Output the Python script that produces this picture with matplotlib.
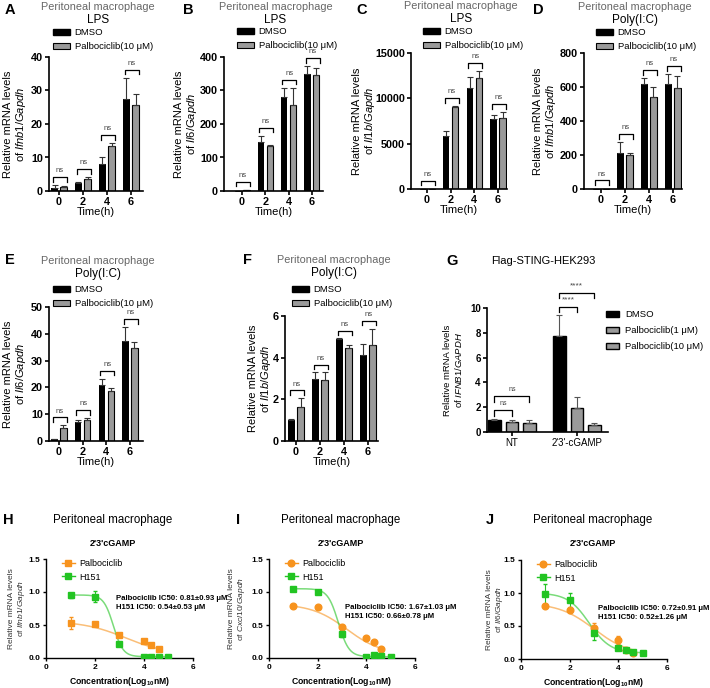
import numpy as np
import matplotlib
matplotlib.use("Agg")
import matplotlib.pyplot as plt
from matplotlib.patches import Patch
from matplotlib.lines import Line2D

plt.rcParams["font.family"] = ["Liberation Sans", "DejaVu Sans"]
plt.rcParams["mathtext.fontset"] = "custom"
plt.rcParams["mathtext.rm"] = "Liberation Sans"
plt.rcParams["mathtext.it"] = "Liberation Sans:italic"
plt.rcParams["mathtext.bf"] = "Liberation Sans:bold"

# ---- data: bar panels (time course) ----
time_labels = ["0", "2", "4", "6"]

a_dmso = [1.0, 2.3, 8.2, 27.5]
a_dmso_err = [0.8, 0.3, 2.0, 6.3]
a_palbo = [1.2, 3.7, 13.5, 25.8]
a_palbo_err = [0.4, 0.4, 0.8, 3.3]

b_dmso = [1, 145, 280, 348]
b_dmso_err = [0, 20, 28, 25]
b_palbo = [3, 135, 258, 345]
b_palbo_err = [1, 3, 50, 23]

c_dmso = [20, 5800, 11100, 7700]
c_dmso_err = [0, 600, 1300, 500]
c_palbo = [20, 9000, 12200, 7800]
c_palbo_err = [0, 100, 800, 700]

d_dmso = [2, 210, 620, 615]
d_dmso_err = [0, 65, 30, 60]
d_palbo = [2, 198, 540, 592]
d_palbo_err = [0, 12, 60, 70]

e_dmso = [0.7, 7.2, 21.0, 37.3]
e_dmso_err = [0.2, 0.5, 2.2, 5.2]
e_palbo = [5.0, 7.8, 18.8, 34.6]
e_palbo_err = [0.8, 0.7, 1.0, 2.5]

f_dmso = [1.0, 3.0, 4.9, 4.15]
f_dmso_err = [0.08, 0.3, 0.03, 0.5]
f_palbo = [1.65, 2.95, 4.45, 4.6]
f_palbo_err = [0.42, 0.35, 0.15, 0.8]

# ---- data: panel G ----
g_groups = ["NT", "2'3'-cGAMP"]
g_labels = ["DMSO", "Palbociclib(1 μM)", "Palbociclib(10 μM)"]
g_vals = [[1.0, 7.75], [0.8, 1.95], [0.75, 0.55]]
g_errs = [[0.05, 1.65], [0.2, 0.85], [0.25, 0.15]]
g_sig = ["ns", "****"]

# ---- data: dose response panels ----
palbo_x = [1, 2, 3, 4, 4.3, 4.6]
h151_x = [1, 2, 3, 4, 4.3, 4.6, 5]

h_palbo = [0.53, 0.52, 0.35, 0.26, 0.19, 0.14]
h_palbo_err = [0.09, 0.03, 0.03, 0.02, 0.02, 0.02]
h_h151 = [0.95, 0.93, 0.21, 0.02, 0.02, 0.02, 0.02]
h_h151_err = [0.04, 0.08, 0.03, 0.01, 0.01, 0.01, 0.01]

i_palbo = [0.79, 0.77, 0.47, 0.30, 0.24, 0.13]
i_palbo_err = [0.02, 0.02, 0.03, 0.02, 0.02, 0.02]
i_h151 = [1.05, 1.0, 0.37, 0.02, 0.05, 0.03, 0.02]
i_h151_err = [0.02, 0.02, 0.05, 0.01, 0.01, 0.01, 0.01]

j_palbo = [0.81, 0.74, 0.47, 0.29, 0.13, 0.09]
j_palbo_err = [0.02, 0.05, 0.08, 0.06, 0.03, 0.03]
j_h151 = [0.99, 0.89, 0.39, 0.16, 0.13, 0.11, 0.09]
j_h151_err = [0.15, 0.11, 0.10, 0.02, 0.02, 0.03, 0.01]

# fitted 4PL parameters (top, bottom, logIC50, hill)
h_palbo_fit = (0.56, 0.05, 3.25, 0.5)
h_h151_fit = (0.955, 0.02, 2.75, 2.2)
i_palbo_fit = (0.82, 0.05, 3.2, 0.6)
i_h151_fit = (1.05, 0.02, 2.85, 2.0)
j_palbo_fit = (0.85, 0.06, 3.0, 0.6)
j_h151_fit = (1.0, 0.09, 2.8, 1.0)

h_ic50 = "Palbociclib IC50: 0.81±0.93 μM\nH151 IC50: 0.54±0.53 μM"
i_ic50 = "Palbociclib IC50: 1.67±1.03 μM\nH151 IC50: 0.66±0.78 μM"
j_ic50 = "Palbociclib IC50: 0.72±0.91 μM\nH151 IC50: 0.52±1.26 μM"

W, H = 710, 688
fig = plt.figure(figsize=(W / 100, H / 100), dpi=100)

ORANGE = "#F7931E"
GREEN = "#22C422"
PGRAY = "#9a9a9a"


def rect(l, t, r, b):
    return [l / W, 1 - b / H, (r - l) / W, (b - t) / H]


def ftext(x, y, s, **kw):
    fig.text(x / W, 1 - y / H, s, ha=kw.pop("ha", "center"), va=kw.pop("va", "center"), **kw)


def style_axes(ax, lw=1.2):
    for s in ["top", "right"]:
        ax.spines[s].set_visible(False)
    for s in ["left", "bottom"]:
        ax.spines[s].set_linewidth(lw)
    ax.tick_params(width=lw, length=3, pad=1.5)


def place_ylabel(ax, box, right_px):
    # right edge of the (rotated) label block, in figure pixels
    ax.yaxis.set_label_coords((right_px - box[0]) / (box[2] - box[0]), 0.5)


def bracket(ax, x1, x2, y, leg, text, fs=5.5):
    ax.plot([x1, x1, x2, x2], [y - leg, y, y, y - leg], color="black", lw=0.9, clip_on=False)
    ax.text((x1 + x2) / 2, y + leg * 0.6, text, ha="center", va="bottom", fontsize=fs,
            color="#444444", clip_on=False)


def bar_panel(letter, box, xlim, ymax, ystep, gene, stim, dmso, dmso_err, palbo, palbo_err,
              letter_xy, title_y, leg_xy, ylab_right):
    ax = fig.add_axes(rect(*box))
    x = np.arange(len(time_labels))
    zeros = [0] * len(x)
    ekw = dict(elinewidth=0.8, capsize=2, capthick=0.8)
    ax.bar(x - 0.19, dmso, 0.27, color="black", yerr=[zeros, dmso_err],
           error_kw=dict(ecolor="#333333", **ekw))
    ax.bar(x + 0.19, palbo, 0.27, color=PGRAY, edgecolor="black", linewidth=0.8,
           yerr=[zeros, palbo_err], error_kw=dict(ecolor="#333333", **ekw))
    ax.set_xlim(*xlim)
    ax.set_ylim(0, ymax)
    ax.set_yticks(np.arange(0, ymax + ystep / 2, ystep))
    ax.set_xticks(x, time_labels)
    style_axes(ax)
    for lab in ax.get_xticklabels() + ax.get_yticklabels():
        lab.set_fontweight("bold")
        lab.set_fontsize(7.8)
    for i in x:
        top = max(dmso[i] + dmso_err[i], palbo[i] + palbo_err[i])
        bracket(ax, i - 0.26, i + 0.33, top + 0.06 * ymax, 0.035 * ymax, "ns")
    ax.set_xlabel("Time(h)", fontsize=8, labelpad=0)
    ax.set_ylabel("Relative mRNA levels\nof $\\mathit{" + gene + "}$", fontsize=8,
                  linespacing=1.1)
    place_ylabel(ax, box, ylab_right)
    cx = (box[0] + box[2]) / 2
    ftext(letter_xy[0], letter_xy[1], letter, fontsize=10.5, fontweight="bold")
    ftext(cx + 2, title_y, "Peritoneal macrophage", fontsize=7.8, color="#666666")
    ftext(cx + 2, title_y + 13, stim, fontsize=8.5)
    handles = [Patch(facecolor="black", edgecolor="black"),
               Patch(facecolor=PGRAY, edgecolor="black", linewidth=0.8)]
    ax.legend(handles, ["DMSO", "Palbociclib(10 μM)"], loc="upper left",
              bbox_to_anchor=(leg_xy[0] / W, 1 - leg_xy[1] / H), bbox_transform=fig.transFigure,
              frameon=False, fontsize=6.8, handlelength=1.8, handleheight=0.55,
              handletextpad=0.5, borderpad=0, borderaxespad=0, labelspacing=0.55)
    return ax


bar_panel("A", (49, 57, 143, 191), (-0.42, 3.5), 40, 10, "Ifnb1/Gapdh", "LPS",
          a_dmso, a_dmso_err, a_palbo, a_palbo_err, (10, 10), 7, (53, 28), 28)
bar_panel("B", (224, 57, 323, 191), (-0.77, 3.48), 400, 100, "Il6/Gapdh", "LPS",
          b_dmso, b_dmso_err, b_palbo, b_palbo_err, (188, 10), 7, (237, 27), 199)
bar_panel("C", (411, 53, 507, 189), (-0.68, 3.38), 15000, 5000, "Il1b/Gapdh", "LPS",
          c_dmso, c_dmso_err, c_palbo, c_palbo_err, (362, 10), 6, (423, 27), 377)
bar_panel("D", (584, 53, 682, 189), (-0.71, 3.38), 800, 200, "Ifnb1/Gapdh", "Poly(I:C)",
          d_dmso, d_dmso_err, d_palbo, d_palbo_err, (538, 10), 7, (596, 28), 558)
bar_panel("E", (49, 307, 143, 441), (-0.42, 3.55), 50, 10, "Il6/Gapdh", "Poly(I:C)",
          e_dmso, e_dmso_err, e_palbo, e_palbo_err, (10, 260), 261, (53, 285), 28)
bar_panel("F", (285, 316, 378, 441), (-0.46, 3.42), 6, 2, "Il1b/Gapdh", "Poly(I:C)",
          f_dmso, f_dmso_err, f_palbo, f_palbo_err, (248, 260), 260, (292, 285), 273)

# ---- panel G ----
gbox = (487, 308, 608, 432)
axg = fig.add_axes(rect(*gbox))
xg = np.arange(len(g_groups))
off = 0.27
g_colors = ["black", PGRAY, PGRAY]
for k in range(3):
    axg.bar(xg + (k - 1) * off, g_vals[k], 0.19, color=g_colors[k], edgecolor="black",
            linewidth=1.0, yerr=[[0] * len(xg), g_errs[k]],
            error_kw=dict(ecolor="#555555", elinewidth=0.8, capsize=2, capthick=0.8))
axg.set_xlim(-0.385, 1.48)
axg.set_ylim(0, 10)
axg.set_yticks(np.arange(0, 11, 2))
axg.set_xticks(xg, g_groups)
style_axes(axg)
for lab in axg.get_yticklabels():
    lab.set_fontweight("bold")
    lab.set_fontsize(7)
for lab in axg.get_xticklabels():
    lab.set_fontsize(7)
axg.set_ylabel("Relative mRNA levels\nof $\\mathit{IFNB1/GAPDH}$", fontsize=6.8, linespacing=1.1)
place_ylabel(axg, gbox, 464)
for i in xg:
    top = max(g_vals[k][i] + g_errs[k][i] for k in range(3))
    y1 = top + 0.7
    fs = 5 if g_sig[i] == "ns" else 6
    bracket(axg, i - off, i, y1, 0.45, g_sig[i], fs=fs)
    bracket(axg, i - off, i + off, y1 + 1.15, 0.45, g_sig[i], fs=fs)
axg.legend([Patch(facecolor=c, edgecolor="black") for c in g_colors], g_labels,
           loc="upper left", bbox_to_anchor=(606 / W, 1 - 310 / H), bbox_transform=fig.transFigure,
           frameon=False, fontsize=6.8, handlelength=1.4, handleheight=0.55,
           handletextpad=0.6, borderpad=0, borderaxespad=0, labelspacing=0.75)
ftext(452, 261, "G", fontsize=10.5, fontweight="bold")
ftext(543, 261, "Flag-STING-HEK293", fontsize=8)


# ---- dose response panels ----
def logistic(x, p):
    top, bottom, c, hill = p
    return bottom + (top - bottom) / (1 + 10 ** ((x - c) * hill))


def dose_panel(letter, box, gene, palbo, palbo_err, palbo_fit, h151, h151_err, h151_fit,
               palbo_marker, ic50, text_xy, letter_x, ylab_right, title_x):
    ax = fig.add_axes(rect(*box))
    xs = np.linspace(palbo_x[0], palbo_x[-1], 200)
    ax.plot(xs, logistic(xs, palbo_fit), color=ORANGE, alpha=0.6, lw=1.1)
    xs2 = np.linspace(h151_x[0], h151_x[-1], 200)
    ax.plot(xs2, logistic(xs2, h151_fit), color=GREEN, alpha=0.6, lw=1.1)
    ax.errorbar(palbo_x, palbo, yerr=palbo_err, fmt=palbo_marker, color=ORANGE, ms=4.8,
                elinewidth=0.8, capsize=1.5, zorder=3)
    ax.errorbar(h151_x, h151, yerr=h151_err, fmt="s", color=GREEN, ms=4.8,
                elinewidth=0.8, capsize=1.5, zorder=3)
    ax.set_xlim(0, 6)
    ax.set_ylim(0, 1.5)
    ax.set_xticks([0, 2, 4, 6])
    ax.set_yticks([0, 0.5, 1.0, 1.5])
    ax.set_yticklabels(["0.0", "0.5", "1.0", "1.5"])
    style_axes(ax, lw=1.0)
    ax.tick_params(length=2.5)
    for lab in ax.get_xticklabels() + ax.get_yticklabels():
        lab.set_fontweight("bold")
        lab.set_fontsize(6)
    ax.set_xlabel("Concentration(Log$_{\\mathbf{10}}$nM)", fontsize=6.2, fontweight="bold",
                  labelpad=3)
    ax.set_ylabel("Relative mRNA levels\nof $\\mathit{" + gene + "}$", fontsize=6,
                  color="#333333", linespacing=1.1)
    place_ylabel(ax, box, ylab_right)
    handles = [Line2D([], [], color=ORANGE, marker=palbo_marker, ms=4.8, lw=1),
               Line2D([], [], color=GREEN, marker="s", ms=4.8, lw=1)]
    ax.legend(handles, ["Palbociclib", "H151"], loc="upper left", bbox_to_anchor=(0.11, 1.0),
              frameon=False, fontsize=6.5, handlelength=1.4, handletextpad=0.5,
              borderpad=0, borderaxespad=0, labelspacing=0.5)
    ax.text(text_xy[0], text_xy[1], ic50, fontsize=5.6, fontweight="bold", ha="left",
            va="center", linespacing=1.4, clip_on=False)
    ftext(title_x, 520, "Peritoneal macrophage", fontsize=8.3)
    ftext(title_x, 543, "2'3'cGAMP", fontsize=6.5, fontweight="bold")
    ftext(letter_x, 520, letter, fontsize=10.5, fontweight="bold")


dose_panel("H", (46, 559, 193, 658), "Ifnb1/Gapdh", h_palbo, h_palbo_err, h_palbo_fit,
           h_h151, h_h151_err, h_h151_fit, "s", h_ic50, (2.86, 0.84), 8, 27, 113)
dose_panel("I", (269, 559, 415, 658), "Cxcl10/Gapdh", i_palbo, i_palbo_err, i_palbo_fit,
           i_h151, i_h151_err, i_h151_fit, "o", i_ic50, (3.12, 0.70), 238, 247, 341)
dose_panel("J", (521, 560, 667, 659), "Il6/Gapdh", j_palbo, j_palbo_err, j_palbo_fit,
           j_h151, j_h151_err, j_h151_fit, "o", j_ic50, (3.16, 0.70), 490, 505, 593)

fig.savefig("out.png", dpi=100)
